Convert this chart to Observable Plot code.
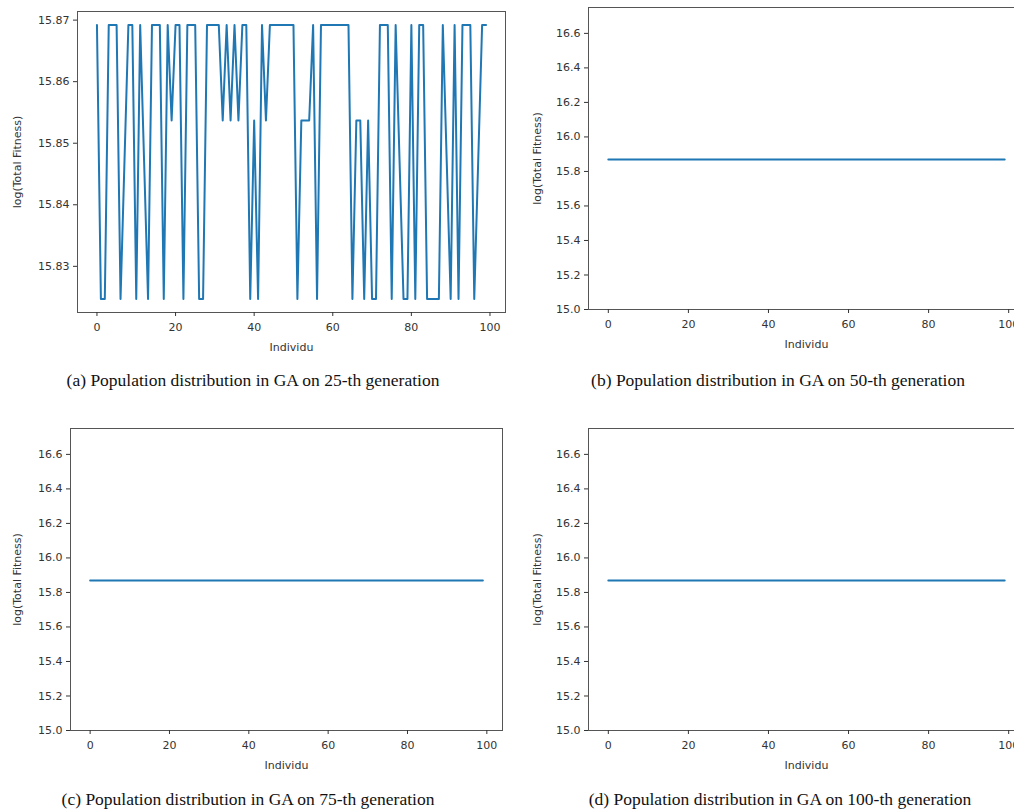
<!DOCTYPE html>
<html><head><meta charset="utf-8">
<script src="https://cdn.jsdelivr.net/npm/d3@7"></script>
<script src="https://cdn.jsdelivr.net/npm/@observablehq/plot@0.6"></script>
<style>
body{margin:0;background:#fff;}
#wrap{position:relative;width:1014px;height:812px;overflow:hidden;background:#fff;}
.panel{position:absolute;}
.cap{position:absolute;font-family:"Liberation Serif","DejaVu Serif",serif;font-size:17.5px;color:#111;white-space:nowrap;transform:translateX(-50%);line-height:1;}
</style></head><body><div id="wrap"></div>
<script>
// x: individual index 0..99
const individu = Array.from({length: 100}, (_, i) => i);
const xTicks = [0, 20, 40, 60, 80, 100];

// (a) 25-th generation, log(Total Fitness) per individual
const gen25 = [
  15.8692, 15.8247, 15.8247, 15.8692, 15.8692, 15.8692, 15.8247, 15.8470, 15.8692, 15.8692,
  15.8247, 15.8692, 15.8470, 15.8247, 15.8692, 15.8692, 15.8692, 15.8247, 15.8692, 15.8537,
  15.8692, 15.8692, 15.8247, 15.8692, 15.8692, 15.8692, 15.8247, 15.8247, 15.8692, 15.8692,
  15.8692, 15.8692, 15.8537, 15.8692, 15.8537, 15.8692, 15.8537, 15.8692, 15.8692, 15.8247,
  15.8537, 15.8247, 15.8692, 15.8537, 15.8692, 15.8692, 15.8692, 15.8692, 15.8692, 15.8692,
  15.8692, 15.8247, 15.8537, 15.8537, 15.8537, 15.8692, 15.8247, 15.8692, 15.8692, 15.8692,
  15.8692, 15.8692, 15.8692, 15.8692, 15.8692, 15.8247, 15.8537, 15.8537, 15.8247, 15.8537,
  15.8247, 15.8247, 15.8692, 15.8692, 15.8692, 15.8247, 15.8692, 15.8470, 15.8247, 15.8247,
  15.8692, 15.8247, 15.8692, 15.8692, 15.8247, 15.8247, 15.8247, 15.8247, 15.8692, 15.8470,
  15.8247, 15.8692, 15.8247, 15.8692, 15.8692, 15.8692, 15.8247, 15.8470, 15.8692, 15.8692
];
// (b) 50-th generation
const gen50 = [
  15.8692, 15.8692, 15.8692, 15.8692, 15.8692, 15.8692, 15.8692, 15.8692, 15.8692, 15.8692,
  15.8692, 15.8692, 15.8692, 15.8692, 15.8692, 15.8692, 15.8692, 15.8692, 15.8692, 15.8692,
  15.8692, 15.8692, 15.8692, 15.8692, 15.8692, 15.8692, 15.8692, 15.8692, 15.8692, 15.8692,
  15.8692, 15.8692, 15.8692, 15.8692, 15.8692, 15.8692, 15.8692, 15.8692, 15.8692, 15.8692,
  15.8692, 15.8692, 15.8692, 15.8692, 15.8692, 15.8692, 15.8692, 15.8692, 15.8692, 15.8692,
  15.8692, 15.8692, 15.8692, 15.8692, 15.8692, 15.8692, 15.8692, 15.8692, 15.8692, 15.8692,
  15.8692, 15.8692, 15.8692, 15.8692, 15.8692, 15.8692, 15.8692, 15.8692, 15.8692, 15.8692,
  15.8692, 15.8692, 15.8692, 15.8692, 15.8692, 15.8692, 15.8692, 15.8692, 15.8692, 15.8692,
  15.8692, 15.8692, 15.8692, 15.8692, 15.8692, 15.8692, 15.8692, 15.8692, 15.8692, 15.8692,
  15.8692, 15.8692, 15.8692, 15.8692, 15.8692, 15.8692, 15.8692, 15.8692, 15.8692, 15.8692
];
// (c) 75-th generation
const gen75 = [
  15.8692, 15.8692, 15.8692, 15.8692, 15.8692, 15.8692, 15.8692, 15.8692, 15.8692, 15.8692,
  15.8692, 15.8692, 15.8692, 15.8692, 15.8692, 15.8692, 15.8692, 15.8692, 15.8692, 15.8692,
  15.8692, 15.8692, 15.8692, 15.8692, 15.8692, 15.8692, 15.8692, 15.8692, 15.8692, 15.8692,
  15.8692, 15.8692, 15.8692, 15.8692, 15.8692, 15.8692, 15.8692, 15.8692, 15.8692, 15.8692,
  15.8692, 15.8692, 15.8692, 15.8692, 15.8692, 15.8692, 15.8692, 15.8692, 15.8692, 15.8692,
  15.8692, 15.8692, 15.8692, 15.8692, 15.8692, 15.8692, 15.8692, 15.8692, 15.8692, 15.8692,
  15.8692, 15.8692, 15.8692, 15.8692, 15.8692, 15.8692, 15.8692, 15.8692, 15.8692, 15.8692,
  15.8692, 15.8692, 15.8692, 15.8692, 15.8692, 15.8692, 15.8692, 15.8692, 15.8692, 15.8692,
  15.8692, 15.8692, 15.8692, 15.8692, 15.8692, 15.8692, 15.8692, 15.8692, 15.8692, 15.8692,
  15.8692, 15.8692, 15.8692, 15.8692, 15.8692, 15.8692, 15.8692, 15.8692, 15.8692, 15.8692
];
// (d) 100-th generation
const gen100 = [
  15.8692, 15.8692, 15.8692, 15.8692, 15.8692, 15.8692, 15.8692, 15.8692, 15.8692, 15.8692,
  15.8692, 15.8692, 15.8692, 15.8692, 15.8692, 15.8692, 15.8692, 15.8692, 15.8692, 15.8692,
  15.8692, 15.8692, 15.8692, 15.8692, 15.8692, 15.8692, 15.8692, 15.8692, 15.8692, 15.8692,
  15.8692, 15.8692, 15.8692, 15.8692, 15.8692, 15.8692, 15.8692, 15.8692, 15.8692, 15.8692,
  15.8692, 15.8692, 15.8692, 15.8692, 15.8692, 15.8692, 15.8692, 15.8692, 15.8692, 15.8692,
  15.8692, 15.8692, 15.8692, 15.8692, 15.8692, 15.8692, 15.8692, 15.8692, 15.8692, 15.8692,
  15.8692, 15.8692, 15.8692, 15.8692, 15.8692, 15.8692, 15.8692, 15.8692, 15.8692, 15.8692,
  15.8692, 15.8692, 15.8692, 15.8692, 15.8692, 15.8692, 15.8692, 15.8692, 15.8692, 15.8692,
  15.8692, 15.8692, 15.8692, 15.8692, 15.8692, 15.8692, 15.8692, 15.8692, 15.8692, 15.8692,
  15.8692, 15.8692, 15.8692, 15.8692, 15.8692, 15.8692, 15.8692, 15.8692, 15.8692, 15.8692
];

const yTicksA = [15.83, 15.84, 15.85, 15.86, 15.87];
const yTicksFlat = [15.0, 15.2, 15.4, 15.6, 15.8, 16.0, 16.2, 16.4, 16.6];
const captions = [
  "(a) Population distribution in GA on 25-th generation",
  "(b) Population distribution in GA on 50-th generation",
  "(c) Population distribution in GA on 75-th generation",
  "(d) Population distribution in GA on 100-th generation"
];

const wrap = document.getElementById("wrap");

function panel(cfg) {
  const chart = Plot.plot({
    width: cfg.width, height: cfg.height,
    marginLeft: cfg.ml, marginRight: cfg.mr, marginTop: cfg.mt, marginBottom: cfg.mb,
    style: {fontFamily: "'DejaVu Sans', sans-serif", fontSize: "11px", color: "#333", background: "transparent", overflow: "visible"},
    x: {domain: [-4.95, 103.95]},
    y: {domain: cfg.yDomain},
    marks: [
      Plot.lineY(cfg.values, {x: individu, y: cfg.values, stroke: "#1f77b4", strokeWidth: 2}),
      Plot.frame({stroke: "#555", strokeWidth: 1}),
      Plot.axisX({ticks: xTicks, tickSize: 4, tickPadding: 7, label: "Individu", labelAnchor: "center", labelArrow: "none", labelOffset: cfg.xlo}),
      Plot.axisY({ticks: cfg.yTicks, tickFormat: d3.format(cfg.fmt), tickSize: 4, tickPadding: 4, label: "log(Total Fitness)", labelAnchor: "center", labelArrow: "none", labelOffset: cfg.lo})
    ]
  });
  chart.classList.add("panel");
  chart.style.left = cfg.left + "px";
  chart.style.top = cfg.top + "px";
  chart.style.position = "absolute";
  wrap.appendChild(chart);
}

panel({values: gen25, yDomain: [15.8225, 15.8714], yTicks: yTicksA, fmt: ".2f", lo: 64, xlo: 38,
  left: 0, top: 0, width: 520, height: 360, ml: 77, mr: 15, mt: 11, mb: 48});
panel({values: gen50, yDomain: [15.0, 16.75], yTicks: yTicksFlat, fmt: ".1f", lo: 55, xlo: 38,
  left: 520, top: 0, width: 520, height: 360, ml: 68, mr: 16, mt: 7, mb: 51});
panel({values: gen75, yDomain: [15.0, 16.75], yTicks: yTicksFlat, fmt: ".1f", lo: 57, xlo: 38,
  left: 0, top: 420, width: 520, height: 360, ml: 70, mr: 18, mt: 8, mb: 50});
panel({values: gen100, yDomain: [15.0, 16.75], yTicks: yTicksFlat, fmt: ".1f", lo: 55, xlo: 38,
  left: 520, top: 420, width: 520, height: 360, ml: 68, mr: 16, mt: 8, mb: 50});

const capPos = [[253, 372], [778, 372], [248, 791], [780, 791]];
captions.forEach((t, i) => {
  const d = document.createElement("div");
  d.className = "cap";
  d.textContent = t;
  d.style.left = capPos[i][0] + "px";
  d.style.top = capPos[i][1] + "px";
  wrap.appendChild(d);
});
</script>
</body></html>
